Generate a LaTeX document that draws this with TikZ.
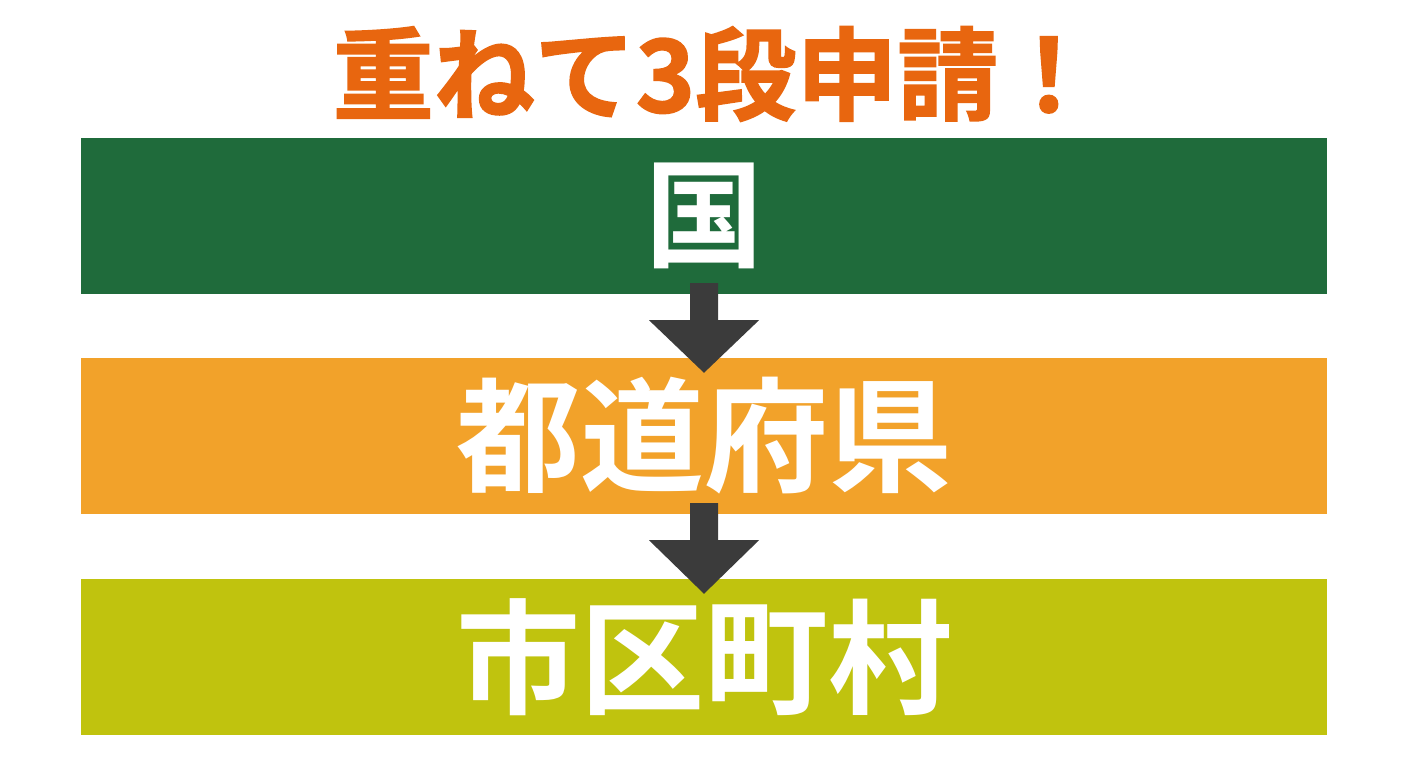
\documentclass[tikz,border=0pt]{standalone}
\usepackage{fontspec}
\newfontfamily\cjk{Noto Sans CJK JP}[BoldFont={* Bold}]
\newfontfamily\cjkheavy{Noto Sans CJK JP}[BoldFont={* Bold}, BoldFeatures={FakeBold=1.5}]
\usetikzlibrary{calc}
\definecolor{bandgreen}{HTML}{1F6B3B}
\definecolor{bandorange}{HTML}{F2A22A}
\definecolor{bandlime}{HTML}{C0C30E}
\definecolor{titleorange}{HTML}{E8660F}
\definecolor{arrowgray}{HTML}{3B3B3B}
\tikzset{
  band/.style={minimum width=1246pt, minimum height=156pt, inner sep=0pt, text=white, font=\cjk\bfseries\fontsize{124}{124}\selectfont},
  downarrow/.style={fill=arrowgray}
}
\begin{document}
\begin{tikzpicture}[x=1pt,y=-1pt]
\fill[white] (0,0) rectangle (1408,768);
\useasboundingbox (0,0) rectangle (1408,768);
\node[inner sep=0pt, text=titleorange, font=\cjkheavy\bfseries\fontsize{101}{101}\selectfont] (title) at (716,74) {重ねて3段申請！};
\node[band, fill=bandgreen, font=\cjk\bfseries\fontsize{118}{118}\selectfont] (kuni) at (704,216) {国};
\node[band, fill=bandorange] (pref) at (704,436) {都道府県};
\node[band, fill=bandlime] (city) at (704,657) {市区町村};
% arrows
\foreach \a/\b in {kuni/pref, pref/city}{
  \fill[downarrow] ($(\a.south)+(-14,-11)$) -- ($(\a.south)+(14,-11)$) -- ($(\a.south)+(14,26)$) -- ($(\a.south)+(55,26)$) -- ($(\b.north)+(0,15)$) -- ($(\a.south)+(-55,26)$) -- ($(\a.south)+(-14,26)$) -- cycle;
}
\end{tikzpicture}
\end{document}
